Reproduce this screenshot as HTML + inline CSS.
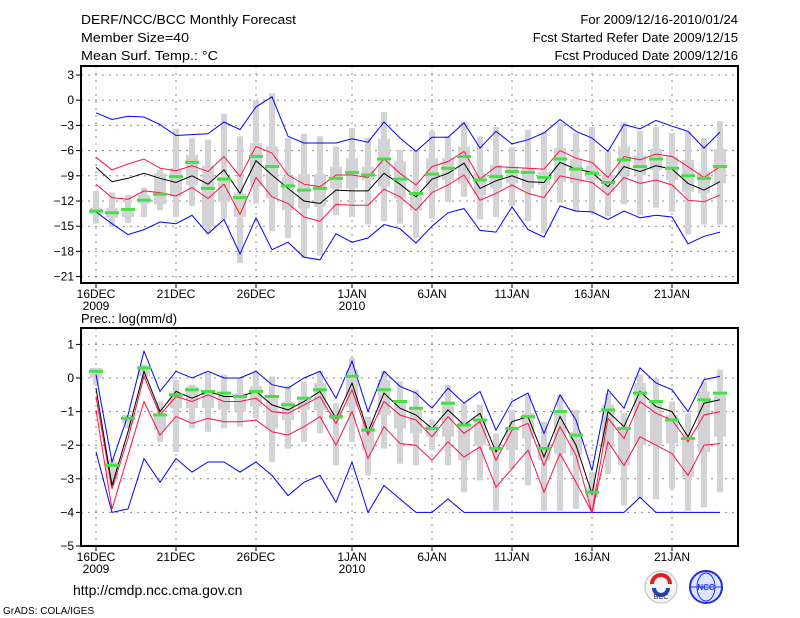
<!DOCTYPE html>
<html><head><meta charset="utf-8"><style>
html,body{margin:0;padding:0;background:#fff;}
svg{display:block;font-family:"Liberation Sans",sans-serif;}
</style></head><body>
<svg id="chart" width="800" height="618" viewBox="0 0 800 618" xmlns="http://www.w3.org/2000/svg">
<rect width="800" height="618" fill="#fff"/>
<g font-size="13" fill="#000">
<text x="81" y="24" textLength="215" lengthAdjust="spacingAndGlyphs">DERF/NCC/BCC Monthly Forecast</text>
<text x="81" y="42" textLength="108" lengthAdjust="spacingAndGlyphs">Member Size=40</text>
<text x="81" y="60" textLength="137" lengthAdjust="spacingAndGlyphs">Mean Surf. Temp.: °C</text>
<text x="738" y="24" text-anchor="end">For 2009/12/16-2010/01/24</text>
<text x="738" y="42" text-anchor="end">Fcst Started Refer Date 2009/12/15</text>
<text x="738" y="60" text-anchor="end">Fcst Produced Date 2009/12/16</text>
<text x="81" y="323">Prec.: log(mm/d)</text>
<text x="73" y="595" font-size="14">http://cmdp.ncc.cma.gov.cn</text>
<text x="3" y="614" font-size="10">GrADS: COLA/IGES</text>
</g>
<g>
<circle cx="661" cy="587" r="16" fill="#f4f4f4" stroke="#bbb"/>
<path d="M652 584 a9 9 0 0 1 18 0" fill="none" stroke="#e02020" stroke-width="4"/>
<path d="M654 588 a7 7 0 0 0 14 0" fill="none" stroke="#2040c0" stroke-width="4"/>
<text x="661" y="599" font-size="7" text-anchor="middle" fill="#333">BCC</text>
</g>
<g>
<circle cx="706" cy="587" r="16" fill="#dde4ff" stroke="#2030e0" stroke-width="2"/>
<ellipse cx="706" cy="587" rx="9" ry="14" fill="none" stroke="#2030e0"/>
<line x1="690" y1="587" x2="722" y2="587" stroke="#2030e0"/>
<text x="706" y="590" font-size="8" text-anchor="middle" fill="#2030e0" font-weight="bold">NCC</text>
</g>
<g id="top"></g>
<g id="bot"></g>
</svg>
<script>
const days = 40;
const xTickDays = [0,5,10,16,21,26,31,36];
const xTickLabels = ["16DEC","21DEC","26DEC","1JAN","6JAN","11JAN","16JAN","21JAN"];
const xYearLabels = ["2009","","","2010","","","",""];
const tTicks = [3,0,-3,-6,-9,-12,-15,-18,-21];
const pTicks = [1,0,-1,-2,-3,-4,-5];

const T_max = [-1.5,-2.3,-1.9,-2.0,-2.9,-4.2,-4.1,-4.0,-2.6,-3.5,-0.8,0.4,-4.3,-5.1,-5.1,-5.1,-4.6,-5.0,-2.6,-4.5,-6.1,-4.4,-4.4,-2.7,-5.7,-3.7,-5.2,-4.7,-3.9,-2.3,-3.7,-4.5,-6.1,-2.9,-3.4,-2.4,-3.1,-3.7,-5.7,-3.8];
const T_up = [-6.8,-8.3,-7.6,-7.0,-8.1,-8.4,-7.8,-8.5,-6.7,-9.1,-5.5,-6.3,-8.9,-10.0,-10.3,-8.9,-8.9,-9.2,-7.0,-8.7,-10.1,-7.9,-7.3,-6.1,-9.4,-7.9,-8.0,-8.1,-8.2,-6.0,-6.9,-7.4,-9.2,-6.7,-7.1,-6.4,-6.7,-7.9,-9.2,-7.9];
const T_mean = [-8.0,-9.7,-9.3,-8.7,-9.3,-9.8,-9.0,-10.0,-8.3,-11.1,-7.2,-8.9,-10.5,-12.0,-12.3,-10.7,-10.8,-10.8,-8.7,-10.0,-11.5,-9.4,-8.7,-7.5,-10.5,-9.6,-9.0,-9.7,-9.8,-7.4,-8.2,-8.6,-10.3,-7.9,-8.5,-7.8,-8.2,-9.9,-10.7,-9.7];
const T_low = [-10.0,-11.6,-11.8,-10.8,-11.0,-11.4,-10.4,-11.7,-10.0,-13.6,-9.2,-11.5,-12.3,-13.9,-14.4,-12.4,-12.5,-12.5,-10.6,-11.5,-13.1,-11.0,-10.1,-8.9,-11.9,-11.1,-10.1,-11.1,-11.6,-9.0,-9.4,-9.8,-11.3,-9.2,-9.9,-9.5,-10.1,-11.9,-12.1,-11.3];
const T_min = [-13.3,-14.7,-16.0,-15.4,-14.5,-14.7,-13.7,-15.9,-14.2,-18.3,-14.0,-17.8,-16.9,-18.7,-19.0,-15.9,-16.9,-16.4,-14.8,-15.3,-17.0,-15.0,-13.4,-12.9,-15.5,-15.7,-12.7,-15.4,-16.3,-12.6,-13.2,-13.3,-14.2,-13.2,-14.0,-13.7,-13.9,-17.1,-16.2,-15.7];
const T_obs = [-13.2,-13.4,-13.0,-11.9,-11.2,-9.1,-7.4,-10.5,-9.4,-11.6,-6.7,-7.9,-10.2,-10.7,-10.5,-9.3,-8.6,-8.9,-7.0,-9.4,-11.1,-8.8,-8.1,-6.7,-9.5,-9.1,-8.5,-8.6,-9.2,-7.0,-8.2,-8.7,-9.8,-7.1,-7.9,-7.0,-8.1,-9.0,-9.3,-7.9];
const T_bhi = [-10.8,-11.0,-11.3,-10.4,-8.3,-3.4,-4.5,-4.7,-1.6,-4.3,0.0,0.8,-4.5,-4.0,-4.3,-5.5,-3.3,-4.5,-1.4,-5.9,-5.9,-3.7,-4.3,-2.5,-4.3,-3.2,-5.6,-3.5,-3.7,-2.7,-3.9,-3.2,-6.1,-2.6,-3.7,-3.2,-3.9,-3.7,-4.5,-2.5];
const T_blo = [-14.7,-15.1,-14.6,-13.9,-13.1,-13.9,-12.6,-15.9,-14.2,-19.4,-12.3,-15.6,-16.4,-18.8,-18.5,-13.7,-13.9,-14.8,-14.4,-14.7,-16.4,-14.1,-12.1,-11.5,-14.2,-13.9,-12.6,-14.4,-15.8,-12.2,-13.2,-13.3,-13.8,-12.4,-13.7,-12.8,-13.3,-16.0,-14.8,-14.8];
const T_q3 = [-12.8,-12.8,-12.9,-11.3,-8.7,-8.1,-6.5,-7.8,-9.1,-11.1,-5.1,-5.5,-9.1,-8.8,-8.8,-7.9,-6.9,-7.9,-4.6,-7.3,-11.1,-6.9,-6.9,-5.5,-8.7,-7.7,-7.9,-8.1,-8.5,-5.7,-7.0,-7.8,-8.9,-5.5,-6.6,-5.8,-6.7,-7.1,-8.5,-5.8];
const T_q1 = [-13.6,-14.0,-13.9,-12.3,-12.4,-11.5,-10.1,-15.1,-12.1,-13.9,-10.3,-11.7,-13.1,-12.9,-12.7,-10.5,-10.5,-9.5,-10.3,-11.7,-13.1,-10.5,-9.5,-9.9,-11.3,-10.5,-9.9,-10.5,-10.1,-9.7,-9.9,-9.5,-10.9,-8.9,-8.9,-8.3,-9.5,-10.9,-11.1,-9.9];

const P_max = [0.1,-2.5,-1.1,0.8,-0.4,0.2,0.0,0.2,0.0,0.0,0.2,-0.2,-0.3,0.0,0.2,-0.6,0.5,-1.0,0.2,-0.25,-0.45,-0.9,-0.3,-0.75,-0.4,-1.55,-0.7,-0.45,-1.65,-0.5,-1.25,-2.75,-0.35,-0.9,0.3,-0.15,-0.35,-1.0,-0.05,0.05];
const P_up = [-0.55,-3.3,-1.8,0.05,-1.1,-0.55,-0.7,-0.5,-0.7,-0.7,-0.6,-1.0,-1.05,-0.8,-0.55,-1.35,-0.35,-1.7,-0.7,-1.1,-1.25,-1.75,-1.15,-1.65,-1.3,-2.45,-1.55,-1.35,-2.6,-1.45,-2.3,-4.0,-1.2,-1.8,-0.7,-1.05,-1.25,-1.9,-1.1,-1.0];
const P_mean = [-0.3,-3.2,-1.6,0.2,-1.0,-0.4,-0.6,-0.4,-0.55,-0.55,-0.4,-0.8,-0.95,-0.7,-0.4,-1.2,-0.15,-1.6,-0.45,-0.9,-1.1,-1.5,-0.95,-1.4,-1.05,-2.2,-1.3,-1.15,-2.35,-1.15,-2.0,-3.45,-1.0,-1.45,-0.4,-0.85,-1.0,-1.75,-0.75,-0.65];
const P_low = [-0.95,-3.9,-2.3,-0.7,-1.7,-1.15,-1.35,-1.2,-1.3,-1.3,-1.25,-1.6,-1.7,-1.45,-1.15,-2.0,-1.0,-2.4,-1.45,-1.95,-2.0,-2.45,-1.9,-2.35,-2.05,-3.25,-2.7,-2.15,-3.4,-2.25,-3.1,-4.0,-1.9,-2.6,-1.75,-2.0,-2.25,-2.9,-2.0,-1.95];
const P_min = [-2.2,-4.0,-3.9,-2.4,-3.1,-2.4,-2.8,-2.5,-2.5,-2.8,-2.5,-2.9,-3.5,-3.1,-2.9,-3.7,-2.5,-4.0,-3.2,-3.6,-4,-4,-3.6,-4,-4,-4,-4,-4,-4,-4,-4,-4,-4,-4,-3.55,-4,-4,-4,-4,-4];
const P_obs = [0.2,-2.6,-1.2,0.3,-1.1,-0.5,-0.35,-0.4,-0.45,-0.55,-0.4,-0.55,-0.8,-0.6,-0.35,-1.15,0.05,-1.55,-0.35,-0.7,-0.9,-1.5,-0.75,-1.4,-1.25,-2.1,-1.5,-1.15,-2.1,-1.0,-1.7,-3.4,-0.95,-1.5,-0.45,-0.7,-1.25,-1.8,-0.65,-0.45];
const P_bhi = [0.3,-2.4,-1.1,0.4,-0.7,-0.05,-0.2,0.15,0.1,0.0,0.2,0.05,-0.25,-0.1,0.2,-0.75,0.6,-1.15,0.2,-0.1,-0.35,-1.25,-0.2,-0.75,-0.8,-1.65,-0.95,-0.5,-1.3,-0.5,-0.95,-2.8,-0.45,-1.05,0.1,0.0,-0.7,-1.05,-0.1,0.25];
const P_blo = [-0.2,-3.2,-1.5,-0.05,-1.9,-2.2,-1.5,-1.6,-1.5,-1.45,-1.2,-2.5,-2.1,-1.9,-1.65,-2.6,-1.9,-2.9,-2.1,-2.55,-2.6,-2.15,-2.6,-3.4,-3.05,-3.95,-2.7,-3.2,-3.95,-3.95,-3.9,-3.95,-2.85,-3.8,-3.6,-3.6,-3.3,-3.95,-3.85,-3.4];
const P_q3 = [0.3,-2.5,-1.1,0.35,-1.05,-0.45,-0.25,-0.4,-0.5,-0.45,-0.25,-0.6,-0.7,-0.55,-0.15,-1.0,0.25,-1.3,-0.05,-0.65,-0.9,-1.4,-0.7,-1.3,-1.2,-2.05,-1.45,-1.05,-1.95,-0.95,-1.6,-3.25,-0.8,-1.5,-0.15,-0.65,-1.1,-1.75,-0.4,-0.4];
const P_q1 = [0.0,-3.0,-1.35,0.05,-1.55,-0.9,-0.9,-0.9,-0.95,-1.0,-0.85,-1.5,-1.25,-0.95,-0.95,-1.25,-0.85,-2.15,-1.1,-1.5,-1.65,-1.75,-1.75,-2.45,-2.0,-2.15,-2.15,-1.8,-2.45,-2.25,-2.3,-3.55,-2.05,-2.6,-2.0,-2.0,-1.95,-2.95,-2.2,-1.75];

const NS = "http://www.w3.org/2000/svg";
const X0 = 81, X1 = 738;
const xOf = k => 96 + 16 * k;

function mk(parent, tag, attrs) {
  const e = document.createElementNS(NS, tag);
  for (const k in attrs) e.setAttribute(k, attrs[k]);
  parent.appendChild(e);
  return e;
}

function panel(g, cfg) {
  const yOf = cfg.y;
  // grid
  cfg.ticks.forEach(t => {
    const y = yOf(t);
    const gl = mk(g, "line", {x1: X0, x2: X1, y1: y, y2: y, stroke: "#888", "stroke-width": 1, "stroke-dasharray": "2,5"});
    
    
    const tk = mk(g, "line", {x1: X0 - 5, x2: X0, y1: y, y2: y, stroke: "#000"});
    
    
    const lb = mk(g, "text", {x: X0 - 7, y: y + 4, "text-anchor": "end", "font-size": 12});
    
    
    lb.textContent = String(t).replace("-", "\u2212");
  });
  xTickDays.forEach((d, i) => {
    const x = xOf(d);
    const gl = mk(g, "line", {x1: x, x2: x, y1: cfg.top, y2: cfg.bottom, stroke: "#888", "stroke-width": 1, "stroke-dasharray": "2,5"});
    
    
    const tk = mk(g, "line", {x1: x, x2: x, y1: cfg.bottom, y2: cfg.bottom + 5, stroke: "#000"});
    
    
    const lb = mk(g, "text", {x: x, y: cfg.bottom + 15, "text-anchor": "middle", "font-size": 12});
    
    
    lb.textContent = xTickLabels[i];
    if (xYearLabels[i]) {
      const yl = mk(g, "text", {x: x, y: cfg.bottom + 27, "text-anchor": "middle", "font-size": 12});
      
      
      yl.textContent = xYearLabels[i];
    }
  });
  // boxes
  for (let k = 0; k < days; k++) {
    const x = xOf(k);
    const a = yOf(cfg.bhi[k]), b = yOf(cfg.blo[k]);
    const r1 = mk(g, "rect", {x: x - 3, y: a, width: 6, height: Math.max(1, b - a), fill: "#d3d3d6"});
    
    
    const c = yOf(cfg.q3[k]), d = yOf(cfg.q1[k]);
    const r2 = mk(g, "rect", {x: x - 6, y: c, width: 12, height: Math.max(1, d - c), fill: "#d3d3d6"});
    
    
  }
  // lines
  const series = [[cfg.max, "#0000ff", "max-line"], [cfg.min, "#0000ff", "min-line"],
                  [cfg.up, "#ff1040", "upper-line"], [cfg.low, "#ff1040", "lower-line"],
                  [cfg.mean, "#000000", "mean-line"]];
  series.forEach(s => {
    const pts = s[0].map((v, k) => xOf(k) + "," + yOf(v).toFixed(1)).join(" ");
    const pl = mk(g, "polyline", {points: pts, fill: "none", stroke: s[1], "stroke-width": 1});
    
    
  });
  // obs
  for (let k = 0; k < days; k++) {
    const ob = mk(g, "rect", {x: xOf(k) - 7, y: yOf(cfg.obs[k]) - 1.5, width: 14, height: 3, fill: "#44e044"});
    
    
  }
  const fr = mk(g, "rect", {x: X0, y: cfg.top, width: X1 - X0, height: cfg.bottom - cfg.top, fill: "none", stroke: "#000", "stroke-width": 2});
  
  
}

const topG = document.getElementById("top");


panel(topG, {y: v => 100.2 - v * 8.4, top: 66, bottom: 283, ticks: tTicks,
  max: T_max, up: T_up, mean: T_mean, low: T_low, min: T_min, obs: T_obs,
  bhi: T_bhi, blo: T_blo, q3: T_q3, q1: T_q1});
const botG = document.getElementById("bot");


panel(botG, {y: v => 378 - v * 33.6, top: 328, bottom: 546, ticks: pTicks,
  max: P_max, up: P_up, mean: P_mean, low: P_low, min: P_min, obs: P_obs,
  bhi: P_bhi, blo: P_blo, q3: P_q3, q1: P_q1});
</script>
</body></html>
